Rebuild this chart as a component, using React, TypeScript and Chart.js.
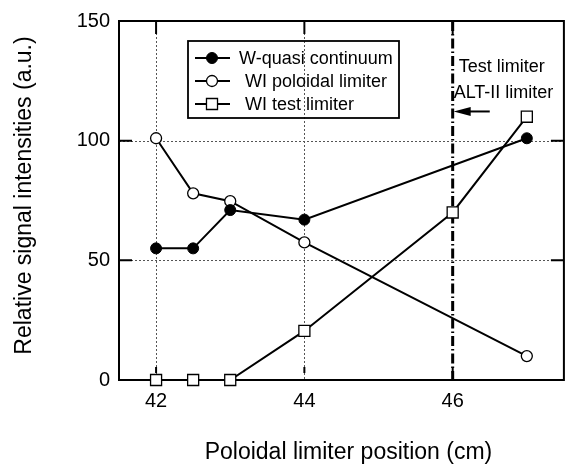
import { useEffect, useRef } from "react";
import { Chart, registerables } from "chart.js";

Chart.register(...registerables);

const FONT = "'Liberation Sans', Arial, Helvetica, sans-serif";

const QUASI_X = [42, 42.5, 43, 44, 47];
const QUASI_Y = [55, 55, 71, 67, 101];
const POLOIDAL_X = [42, 42.5, 43, 44, 47];
const POLOIDAL_Y = [101, 78, 74.7, 57.5, 10];
const TEST_X = [42, 42.5, 43, 44, 46, 47];
const TEST_Y = [0, 0, 0, 20.5, 70, 110];
const SERIES_LABELS = ["W-quasi continuum", "WI poloidal limiter", "WI test limiter"];
const X_TICKS = [42, 44, 46];
const Y_TICKS = [0, 50, 100, 150];
const X_TITLE = "Poloidal limiter position (cm)";
const Y_TITLE = "Relative signal intensities (a.u.)";
const LIMITER_POS = 46;
const ANNOTATION_LINES = ["Test limiter", "ALT-II limiter"];

const pts = (xs: number[], ys: number[]) => xs.map((x, i) => ({ x, y: ys[i] }));

const decor = {
  id: "decor",
  beforeDatasetsDraw(chart: any) {
    const { ctx, chartArea: a, scales } = chart;
    const x = scales.x;
    const y = scales.y;
    ctx.save();
    ctx.strokeStyle = "#555";
    ctx.lineWidth = 1;
    ctx.setLineDash([2, 2]);
    X_TICKS.filter((v) => v !== LIMITER_POS).forEach((v) => {
      const px = Math.round(x.getPixelForValue(v)) + 0.5;
      ctx.beginPath();
      ctx.moveTo(px, a.top);
      ctx.lineTo(px, a.bottom);
      ctx.stroke();
    });
    Y_TICKS.filter((v) => v > y.min && v < y.max).forEach((v) => {
      const py = Math.round(y.getPixelForValue(v)) + 0.5;
      ctx.beginPath();
      ctx.moveTo(a.left, py);
      ctx.lineTo(a.right, py);
      ctx.stroke();
    });
    // frame
    ctx.setLineDash([]);
    ctx.strokeStyle = "#000";
    ctx.lineWidth = 2;
    ctx.strokeRect(a.left, a.top, a.right - a.left, a.bottom - a.top);
    // limiter line
    const lx = x.getPixelForValue(LIMITER_POS);
    ctx.lineWidth = 3;
    ctx.setLineDash([10, 3, 1.5, 3]);
    ctx.beginPath();
    ctx.moveTo(lx, a.top);
    ctx.lineTo(lx, a.bottom);
    ctx.stroke();
    ctx.restore();
  },
  afterDraw(chart: any) {
    const { ctx, chartArea: a, scales } = chart;
    const x = scales.x;
    const y = scales.y;
    ctx.save();
    ctx.setLineDash([]);
    ctx.strokeStyle = "#000";
    ctx.fillStyle = "#000";
    // inward ticks
    const tl = 13;
    ctx.lineWidth = 2;
    Y_TICKS.filter((v) => v > y.min && v < y.max).forEach((v) => {
      const py = y.getPixelForValue(v);
      ctx.beginPath();
      ctx.moveTo(a.left, py);
      ctx.lineTo(a.left + tl, py);
      ctx.moveTo(a.right, py);
      ctx.lineTo(a.right - tl, py);
      ctx.stroke();
    });
    X_TICKS.forEach((v) => {
      const px = x.getPixelForValue(v);
      ctx.beginPath();
      ctx.moveTo(px, a.top);
      ctx.lineTo(px, a.top + tl);
      ctx.stroke();
    });
    // annotation text
    const lx = x.getPixelForValue(LIMITER_POS);
    ctx.font = `18px ${FONT}`;
    ctx.textAlign = "left";
    ctx.textBaseline = "alphabetic";
    ctx.fillText(ANNOTATION_LINES[0], lx + 6, y.getPixelForValue(128.6));
    ctx.fillText(ANNOTATION_LINES[1], lx + 1, y.getPixelForValue(118));
    // arrow
    const ay = y.getPixelForValue(112.2);
    const tail = x.getPixelForValue(46.5);
    ctx.lineWidth = 2;
    ctx.beginPath();
    ctx.moveTo(tail, ay);
    ctx.lineTo(lx + 14, ay);
    ctx.stroke();
    ctx.beginPath();
    ctx.moveTo(lx + 1, ay);
    ctx.lineTo(lx + 18, ay - 4.5);
    ctx.lineTo(lx + 18, ay + 4.5);
    ctx.closePath();
    ctx.fill();
    // legend
    const bx = a.left + 69;
    const by = a.top + 20;
    ctx.lineWidth = 1.8;
    ctx.strokeRect(bx, by, 211, 77);
    const rows = [17, 40, 63];
    const textX = [51, 57, 57];
    chart.data.datasets.forEach((ds: any, i: number) => {
      const ry = by + rows[i];
      ctx.lineWidth = 2;
      ctx.strokeStyle = "#000";
      ctx.beginPath();
      ctx.moveTo(bx + 7, ry);
      ctx.lineTo(bx + 42, ry);
      ctx.stroke();
      const cx = bx + 24;
      ctx.beginPath();
      if (ds.pointStyle === "rect") {
        const s = ds.pointRadius * Math.SQRT1_2;
        ctx.rect(cx - s, ry - s, 2 * s, 2 * s);
      } else {
        ctx.arc(cx, ry, ds.pointRadius, 0, Math.PI * 2);
      }
      ctx.fillStyle = ds.pointBackgroundColor;
      ctx.fill();
      ctx.lineWidth = ds.pointBorderWidth;
      ctx.stroke();
      ctx.fillStyle = "#000";
      ctx.font = `18px ${FONT}`;
      ctx.textBaseline = "middle";
      ctx.textAlign = "left";
      ctx.fillText(ds.label, bx + textX[i], ry + 1);
    });
    // axis titles
    ctx.font = `23px ${FONT}`;
    ctx.fillStyle = "#000";
    ctx.textAlign = "center";
    ctx.textBaseline = "alphabetic";
    ctx.fillText(X_TITLE, (a.left + a.right) / 2 + 7, a.bottom + 79);
    ctx.save();
    ctx.translate(31, (a.top + a.bottom) / 2 - 5);
    ctx.rotate(-Math.PI / 2);
    ctx.fillText(Y_TITLE, 0, 0);
    ctx.restore();
    ctx.restore();
  },
  afterDatasetsDraw(chart: any) {
    // bottom ticks drawn over markers as in the reference
    const { ctx, chartArea: a, scales } = chart;
    ctx.save();
    ctx.strokeStyle = "#000";
    ctx.lineWidth = 2;
    X_TICKS.forEach((v) => {
      const px = scales.x.getPixelForValue(v);
      ctx.beginPath();
      ctx.moveTo(px, a.bottom - 7);
      ctx.lineTo(px, a.bottom - 13);
      ctx.stroke();
    });
    ctx.restore();
  },
};

export default function App() {
  const ref = useRef<HTMLCanvasElement | null>(null);
  useEffect(() => {
    if (!ref.current) return;
    const common = { borderColor: "#000", borderWidth: 2, clip: false, pointBorderColor: "#000" };
    const chart = new Chart(ref.current, {
      type: "line",
      data: {
        datasets: [
          {
            ...common,
            label: SERIES_LABELS[0],
            data: pts(QUASI_X, QUASI_Y),
            pointStyle: "circle",
            pointRadius: 5.5,
            pointBackgroundColor: "#000",
            pointBorderWidth: 1,
          },
          {
            ...common,
            label: SERIES_LABELS[1],
            data: pts(POLOIDAL_X, POLOIDAL_Y),
            pointStyle: "circle",
            pointRadius: 5.5,
            pointBackgroundColor: "#fff",
            pointBorderWidth: 1.3,
          },
          {
            ...common,
            label: SERIES_LABELS[2],
            data: pts(TEST_X, TEST_Y),
            pointStyle: "rect",
            pointRadius: 7.8,
            pointBackgroundColor: "#fff",
            pointBorderWidth: 1.3,
          },
        ] as any,
      },
      options: {
        responsive: false,
        animation: false,
        layout: { padding: { top: 15, right: 4, left: 0, bottom: 0 } },
        plugins: { legend: { display: false }, tooltip: { enabled: false } },
        scales: {
          x: {
            type: "linear",
            min: 41.5,
            max: 47.5,
            grid: { display: false, drawTicks: false },
            border: { display: false },
            afterBuildTicks: (s: any) => {
              s.ticks = X_TICKS.map((value) => ({ value }));
            },
            afterFit: (s: any) => {
              s.height = 84;
            },
            ticks: {
              color: "#000",
              padding: 9,
              font: { family: FONT, size: 20 },
              maxRotation: 0,
              autoSkip: false,
            },
          },
          y: {
            type: "linear",
            min: 0,
            max: 150,
            grid: { display: false, drawTicks: false },
            border: { display: false },
            afterBuildTicks: (s: any) => {
              s.ticks = Y_TICKS.map((value) => ({ value }));
            },
            afterFit: (s: any) => {
              s.width = 119;
            },
            ticks: {
              color: "#000",
              padding: 9,
              font: { family: FONT, size: 20 },
            },
          },
        },
      } as any,
      plugins: [decor],
    });
    return () => chart.destroy();
  }, []);
  return (
    <div style={{ position: "absolute", left: 0, top: 0, width: 573, height: 464, background: "#fff" }}>
      <canvas ref={ref} width={573} height={464} />
    </div>
  );
}
